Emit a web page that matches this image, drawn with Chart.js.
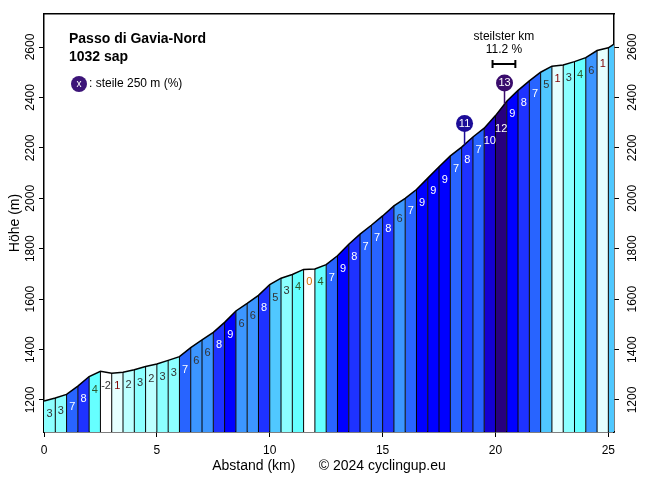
<!DOCTYPE html>
<html lang="de">
<head>
<meta charset="UTF-8">
<title>Passo di Gavia-Nord</title>
<script src="https://cdn.jsdelivr.net/npm/chart.js"></script>
<style>
  body { margin: 0; background: #fff; }
  canvas { display: block; }
</style>
</head>
<body>
<canvas id="chartCanvas" width="656" height="479"></canvas>
<script>
// Profil: Distanz (km) und Höhe (m)
const dist = [0, 0.5, 1, 1.5, 2, 2.5, 3, 3.5, 4, 4.5, 5, 5.5, 6, 6.5, 7, 7.5, 8, 8.5, 9, 9.5,
  10, 10.5, 11, 11.5, 12, 12.5, 13, 13.5, 14, 14.5, 15, 15.5, 16, 16.5, 17, 17.5, 18, 18.5, 19, 19.5,
  20, 20.5, 21, 21.5, 22, 22.5, 23, 23.5, 24, 24.5, 25, 25.25];
const elev = [1196, 1208, 1222, 1255, 1293, 1314, 1306, 1310, 1320, 1333, 1343, 1357, 1372, 1408, 1438, 1468, 1508, 1553, 1583, 1615,
  1658, 1683, 1698, 1718, 1720, 1737, 1772, 1818, 1858, 1893, 1930, 1970, 2000, 2035, 2080, 2125, 2168, 2203, 2243, 2278,
  2328, 2385, 2428, 2466, 2500, 2524, 2529, 2542, 2558, 2586, 2597, 2612];
// Steigung pro Abschnitt (%), letzte kurze Strecke ohne Beschriftung
const grades = [3, 3, 7, 8, 4, -2, 1, 2, 3, 2, 3, 3, 7, 6, 6, 8, 9, 6, 6, 8,
  5, 3, 4, 0, 4, 7, 9, 8, 7, 7, 8, 6, 7, 9, 9, 9, 7, 8, 7, 10,
  12, 9, 8, 7, 5, 1, 3, 4, 6, 1, 5];
const gradeLabels = ['3', '3', '7', '8', '4', '-2', '1', '2', '3', '2', '3', '3', '7', '6', '6', '8', '9', '6', '6', '8',
  '5', '3', '4', '0', '4', '7', '9', '8', '7', '7', '8', '6', '7', '9', '9', '9', '7', '8', '7', '10',
  '12', '9', '8', '7', '5', '1', '3', '4', '6', '1', ''];
// steilste 250 m
const steepMarkKm = [18.63, 20.4];
const steepMarkLabel = ['11', '13'];
const steepMarkColor = ['#1c0c98', '#3a0c6c'];
// steilster km
const steepestKm = [19.87, 20.88];
const steepestText = '11.2 %';

const xTicks = [0, 5, 10, 15, 20, 25];
const yTicks = [1200, 1400, 1600, 1800, 2000, 2200, 2400, 2600];
const yMin = 1073, yMax = 2731, xMax = 25.25;

const gradeColors = {
  '-2': '#ffffff', '0': '#ffffff', '1': '#e6ffff', '2': '#bcffff', '3': '#8cffff', '4': '#66ffff',
  '5': '#50c8ff', '6': '#3c96ff', '7': '#2864ff', '8': '#1e32ff', '9': '#0000ff', '10': '#1400d2',
  '11': '#1c0c98', '12': '#28007e', '13': '#3a0c6c'
};
function labelColor(g) {
  if (g >= 7) return '#ffffff';
  if (g === 0) return '#d07000';
  if (g === 1) return '#800000';
  if (g === 4) return '#2e5a2e';
  return '#333333';
}

const FONT = "'Liberation Sans', Arial, sans-serif";

const profile = dist.map((d, i) => ({ x: d, y: elev[i] }));

// ein gefüllter Datensatz pro Abschnitt
const segmentSets = grades.map((g, i) => ({
  data: [{ x: dist[i], y: elev[i] }, { x: dist[i + 1], y: elev[i + 1] }],
  backgroundColor: gradeColors[String(g)],
  borderWidth: 0,
  pointRadius: 0,
  fill: 'start',
  order: 3
}));

// senkrechte Trennlinien an jeder Abschnittsgrenze
const separators = [];
for (let i = 1; i < dist.length - 1; i++) {
  separators.push({ x: dist[i], y: yMin }, { x: dist[i], y: elev[i] }, { x: dist[i], y: null });
}

function elevAt(km) {
  for (let i = 0; i < dist.length - 1; i++) {
    if (km >= dist[i] && km <= dist[i + 1]) {
      const t = (km - dist[i]) / (dist[i + 1] - dist[i]);
      return elev[i] + t * (elev[i + 1] - elev[i]);
    }
  }
  return elev[elev.length - 1];
}

const annotations = {
  id: 'annotations',
  afterDatasetsDraw(chart) {
    const ctx = chart.ctx;
    const xs = chart.scales.x, ys = chart.scales.y;
    ctx.save();
    // Steigungswerte in den Abschnitten
    ctx.font = '11px ' + FONT;
    ctx.textAlign = 'center';
    ctx.textBaseline = 'middle';
    for (let i = 0; i < gradeLabels.length; i++) {
      if (!gradeLabels[i]) continue;
      const cx = xs.getPixelForValue((dist[i] + dist[i + 1]) / 2);
      const cy = ys.getPixelForValue(Math.min(elev[i], elev[i + 1])) + 13;
      ctx.fillStyle = labelColor(grades[i]);
      ctx.fillText(gradeLabels[i], cx, cy);
    }
    // Markierungen steilste 250 m
    steepMarkKm.forEach((km, i) => {
      const px = xs.getPixelForValue(km);
      const py = ys.getPixelForValue(elevAt(km));
      ctx.strokeStyle = steepMarkColor[i];
      ctx.lineWidth = 1.5;
      ctx.beginPath();
      ctx.moveTo(px, py);
      ctx.lineTo(px, py - 14);
      ctx.stroke();
      ctx.fillStyle = steepMarkColor[i];
      ctx.beginPath();
      ctx.arc(px, py - 21, 8.5, 0, Math.PI * 2);
      ctx.fill();
      ctx.fillStyle = '#ffffff';
      ctx.font = '11px ' + FONT;
      ctx.fillText(steepMarkLabel[i], px, py - 21);
    });
    // steilster km
    const x0 = xs.getPixelForValue(steepestKm[0]);
    const x1 = xs.getPixelForValue(steepestKm[1]);
    const top = chart.chartArea.top;
    ctx.strokeStyle = '#000';
    ctx.lineWidth = 2;
    ctx.beginPath();
    ctx.moveTo(x0, top + 50); ctx.lineTo(x1, top + 50);
    ctx.moveTo(x0, top + 46); ctx.lineTo(x0, top + 54);
    ctx.moveTo(x1, top + 46); ctx.lineTo(x1, top + 54);
    ctx.stroke();
    ctx.fillStyle = '#000';
    ctx.font = '12px ' + FONT;
    ctx.fillText('steilster km', (x0 + x1) / 2, top + 23);
    ctx.fillText(steepestText, (x0 + x1) / 2, top + 36);
    // Titel und Legende
    const left = chart.chartArea.left;
    ctx.textAlign = 'left';
    ctx.font = 'bold 14px ' + FONT;
    ctx.fillText('Passo di Gavia-Nord', left + 25, top + 25);
    ctx.fillText('1032 sap', left + 25, top + 43);
    ctx.fillStyle = '#3c1478';
    ctx.beginPath();
    ctx.arc(left + 35, top + 70, 8, 0, Math.PI * 2);
    ctx.fill();
    ctx.fillStyle = '#ffffff';
    ctx.font = '10px ' + FONT;
    ctx.textAlign = 'center';
    ctx.fillText('x', left + 35, top + 70);
    ctx.fillStyle = '#000';
    ctx.textAlign = 'left';
    ctx.font = '12px ' + FONT;
    ctx.fillText(': steile 250 m (%)', left + 45, top + 70);
    ctx.restore();
  },
  afterDraw(chart) {
    // gedrehte Beschriftung der Höhenachsen
    const ctx = chart.ctx;
    ctx.save();
    ctx.font = '12px ' + FONT;
    ctx.fillStyle = '#000';
    ctx.textAlign = 'center';
    ctx.textBaseline = 'middle';
    [['y', chart.chartArea.left - 13], ['y2', chart.chartArea.right + 19]].forEach(([id, lx]) => {
      const sc = chart.scales[id];
      sc.ticks.forEach(t => {
        const py = sc.getPixelForValue(t.value);
        ctx.save();
        ctx.translate(lx, py);
        ctx.rotate(-Math.PI / 2);
        ctx.fillText(String(t.value), 0, 0);
        ctx.restore();
      });
    });
    ctx.restore();
  }
};

const axisGrid = { drawOnChartArea: false, drawTicks: true, tickLength: 5, color: '#000', lineWidth: 1 };
const axisBorder = { color: '#000', width: 1.5 };

new Chart(document.getElementById('chartCanvas').getContext('2d'), {
  type: 'line',
  data: {
    datasets: [
      {
        data: profile,
        borderColor: '#000',
        borderWidth: 1.5,
        pointRadius: 0,
        fill: false,
        tension: 0,
        order: 1
      },
      {
        data: separators,
        borderColor: '#000',
        borderWidth: 1,
        pointRadius: 0,
        fill: false,
        spanGaps: false,
        order: 2
      },
      ...segmentSets
    ]
  },
  options: {
    responsive: false,
    animation: false,
    devicePixelRatio: 1,
    layout: { padding: 0 },
    plugins: { legend: { display: false }, tooltip: { enabled: false } },
    scales: {
      x: {
        type: 'linear', position: 'bottom', min: 0, max: xMax,
        afterBuildTicks: s => { s.ticks = xTicks.map(v => ({ value: v })); },
        afterFit: s => { s.height = 47; },
        ticks: { color: '#000', font: { family: FONT, size: 12 }, padding: 6, maxRotation: 0 },
        grid: axisGrid, border: axisBorder,
        title: { display: true, text: 'Abstand (km)      \u00a9 2024 cyclingup.eu', color: '#000',
          font: { family: FONT, size: 14 }, padding: { top: 0, bottom: 4 } }
      },
      x2: {
        type: 'linear', position: 'top', min: 0, max: xMax,
        afterFit: s => { s.height = 14; },
        ticks: { display: false },
        grid: { display: false }, border: axisBorder
      },
      y: {
        type: 'linear', position: 'left', min: yMin, max: yMax,
        afterBuildTicks: s => { s.ticks = yTicks.map(v => ({ value: v })); },
        afterFit: s => { s.width = 44; },
        ticks: { display: false },
        grid: axisGrid, border: axisBorder,
        title: { display: true, text: 'Höhe (m)', color: '#000',
          font: { family: FONT, size: 14 }, padding: { top: 7, bottom: 0 } }
      },
      y2: {
        type: 'linear', position: 'right', min: yMin, max: yMax,
        afterBuildTicks: s => { s.ticks = yTicks.map(v => ({ value: v })); },
        afterFit: s => { s.width = 42; },
        ticks: { display: false },
        grid: axisGrid, border: axisBorder
      }
    }
  },
  plugins: [annotations]
});
</script>
</body>
</html>
